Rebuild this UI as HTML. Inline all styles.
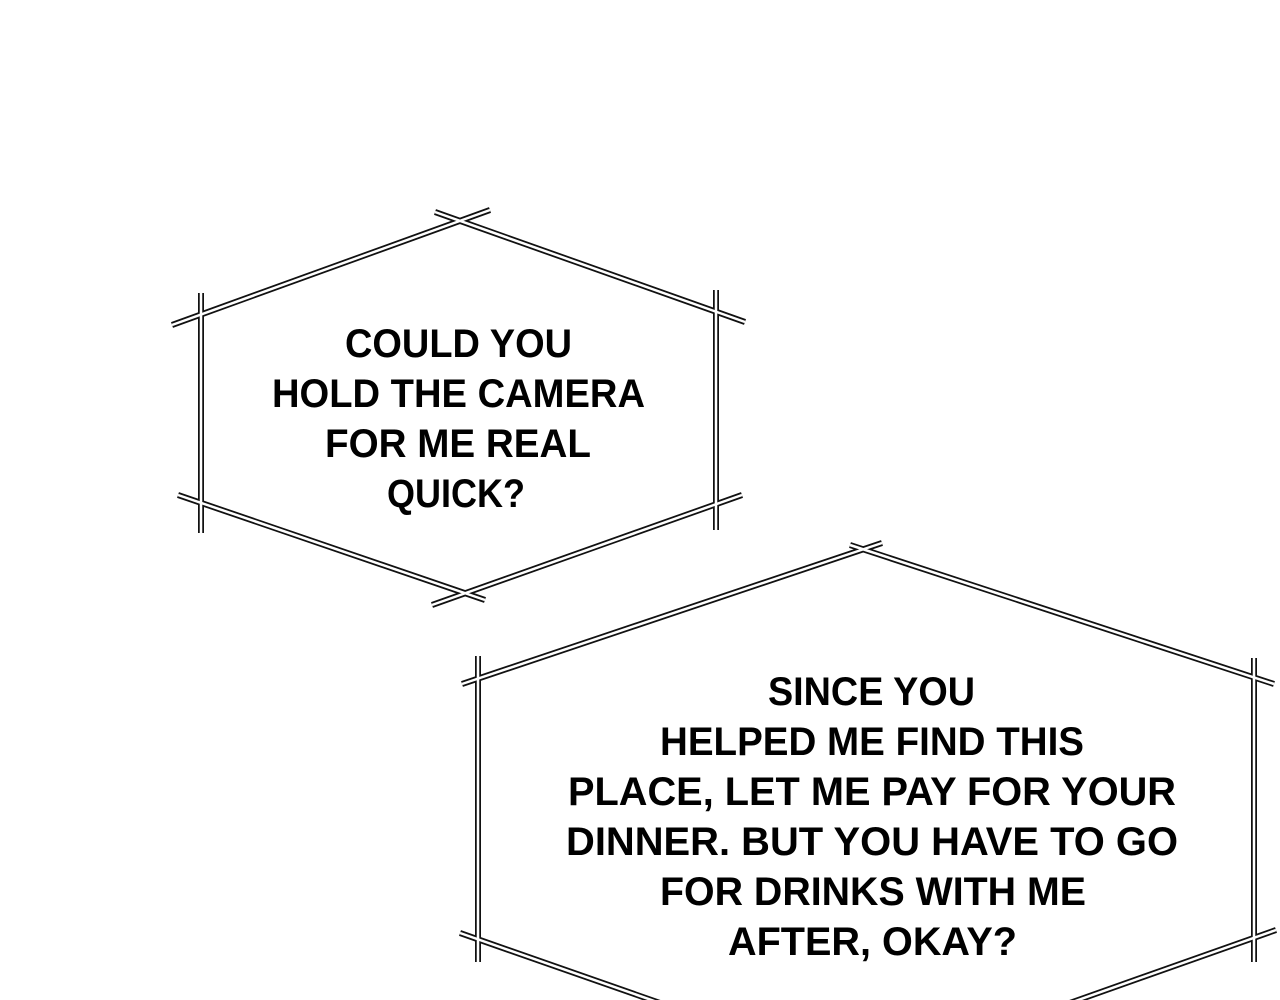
<!DOCTYPE html>
<html><head><meta charset="utf-8"><style>html,body{margin:0;padding:0;background:#fff}svg{display:block}</style></head>
<body>
<svg width="1280" height="1000" viewBox="0 0 1280 1000" xmlns="http://www.w3.org/2000/svg">
<g stroke-linecap="butt">
<g id="b" stroke="#111" stroke-width="6">
<line x1="172" y1="325" x2="490" y2="210"/>
<line x1="435" y1="212" x2="745" y2="322"/>
<line x1="201" y1="293" x2="201" y2="533"/>
<line x1="716" y1="290" x2="716" y2="530"/>
<line x1="178" y1="495" x2="485" y2="600"/>
<line x1="432" y1="605" x2="742" y2="495"/>
<line x1="462" y1="684" x2="882" y2="543"/>
<line x1="850" y1="545" x2="1274" y2="684"/>
<line x1="478" y1="656" x2="478" y2="962"/>
<line x1="1254" y1="658" x2="1254" y2="962"/>
<line x1="460" y1="933" x2="680" y2="1010"/>
<line x1="1276" y1="930" x2="1050" y2="1010"/>
</g>
<g stroke="#fff" stroke-width="2.5">
<line x1="172" y1="325" x2="490" y2="210"/>
<line x1="435" y1="212" x2="745" y2="322"/>
<line x1="201" y1="293" x2="201" y2="533"/>
<line x1="716" y1="290" x2="716" y2="530"/>
<line x1="178" y1="495" x2="485" y2="600"/>
<line x1="432" y1="605" x2="742" y2="495"/>
<line x1="462" y1="684" x2="882" y2="543"/>
<line x1="850" y1="545" x2="1274" y2="684"/>
<line x1="478" y1="656" x2="478" y2="962"/>
<line x1="1254" y1="658" x2="1254" y2="962"/>
<line x1="460" y1="933" x2="680" y2="1010"/>
<line x1="1276" y1="930" x2="1050" y2="1010"/>
</g>
</g>
<g font-family="Liberation Sans, sans-serif" font-weight="bold" font-size="40" fill="#000" lengthAdjust="spacingAndGlyphs">
<text x="345" y="357" textLength="227" lengthAdjust="spacingAndGlyphs">COULD YOU</text>
<text x="272" y="407" textLength="373" lengthAdjust="spacingAndGlyphs">HOLD THE CAMERA</text>
<text x="325" y="457" textLength="266" lengthAdjust="spacingAndGlyphs">FOR ME REAL</text>
<text x="387" y="507" textLength="138" lengthAdjust="spacingAndGlyphs">QUICK?</text>
<text x="768" y="705" textLength="207" lengthAdjust="spacingAndGlyphs">SINCE YOU</text>
<text x="660" y="755" textLength="424" lengthAdjust="spacingAndGlyphs">HELPED ME FIND THIS</text>
<text x="568" y="805" textLength="608" lengthAdjust="spacingAndGlyphs">PLACE, LET ME PAY FOR YOUR</text>
<text x="566" y="855" textLength="612" lengthAdjust="spacingAndGlyphs">DINNER. BUT YOU HAVE TO GO</text>
<text x="660" y="905" textLength="426" lengthAdjust="spacingAndGlyphs">FOR DRINKS WITH ME</text>
<text x="728" y="955" textLength="289" lengthAdjust="spacingAndGlyphs">AFTER, OKAY?</text>
</g>
</svg>
</body></html>
